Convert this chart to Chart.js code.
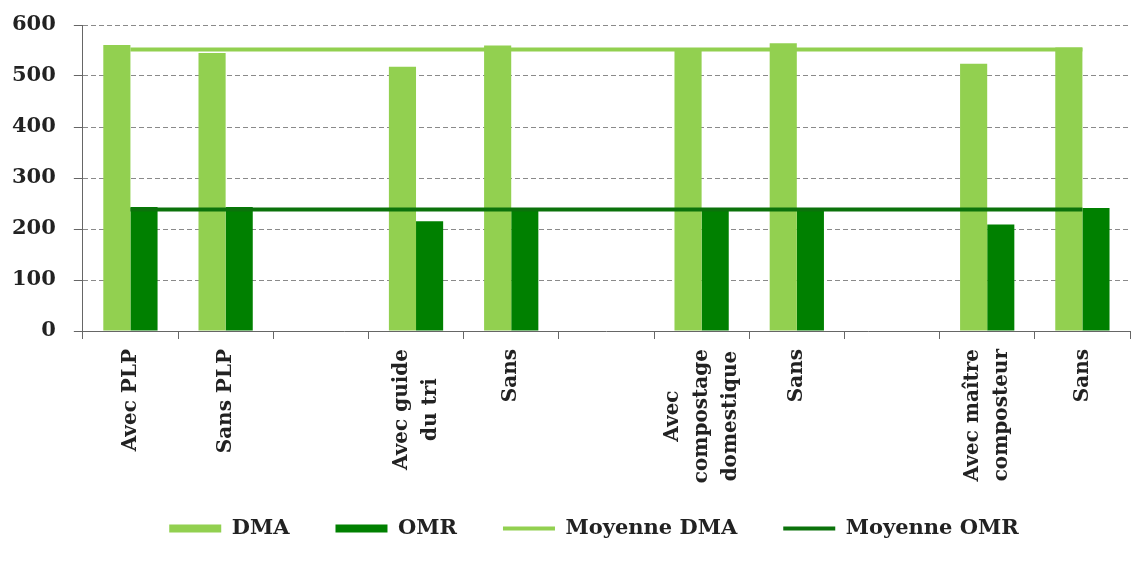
<!DOCTYPE html>
<html>
<head>
<meta charset="utf-8">
<script src="https://cdn.jsdelivr.net/npm/chart.js@4"></script>
<style>
  html, body { margin: 0; padding: 0; background: #fff; }
  #wrap { width: 1135px; height: 564px; }
</style>
</head>
<body>
<div id="wrap"><canvas id="myChart" width="1135" height="564"></canvas></div>
<script>
const labels = [
  ["Avec PLP"], ["Sans PLP"], [""],
  ["Avec guide", "du tri"], ["Sans"], [""],
  ["Avec", "compostage", "domestique"], ["Sans"], [""],
  ["Avec maître", "composteur"], ["Sans"]
]
const dma = [561, 545, null, 518, 560, null, 554, 564, null, 524, 556]
const omr = [243, 243, null, 215, 241, null, 241, 241, null, 209, 241]
const moyenneDma = [552, 552, 552, 552, 552, 552, 552, 552, 552, 552, 552]
const moyenneOmr = [238, 238, 238, 238, 238, 238, 238, 238, 238, 238, 238]

const fontFamily = "'DejaVu Serif', serif"

// draws the x labels rotated, each line centred like in the original
const xLabelsPlugin = {
  id: 'xLabels',
  afterLayout(chart) {
    // legend sits a bit right of centre in the original
    chart.legend.left += 32
    chart.legend.right += 32
  },
  afterDraw(chart) {
    const ctx = chart.ctx
    const scale = chart.scales.x
    const lh = 29
    ctx.save()
    ctx.font = "bold 20px " + fontFamily
    ctx.fillStyle = '#222'
    ctx.textAlign = 'center'
    ctx.textBaseline = 'middle'
    chart.data.labels.forEach((lines, i) => {
      const x = scale.getPixelForValue(i)
      const w = Math.max(...lines.map(l => ctx.measureText(l).width))
      ctx.save()
      ctx.translate(x, scale.top + 18)
      ctx.rotate(-Math.PI / 2)
      lines.forEach((l, j) => {
        ctx.fillText(l, -w / 2, (j - (lines.length - 1) / 2) * lh)
      })
      ctx.restore()
    })
    ctx.restore()
  }
}

const data = {
  labels: labels,
  datasets: [
    {
      type: 'line', label: 'Moyenne DMA', data: moyenneDma, order: 0,
      borderColor: '#92d050', backgroundColor: '#92d050', borderWidth: 4,
      pointRadius: 0, pointStyle: 'line', tension: 0
    },
    {
      type: 'line', label: 'Moyenne OMR', data: moyenneOmr, order: 0,
      borderColor: '#0b720b', backgroundColor: '#0b720b', borderWidth: 4,
      pointRadius: 0, pointStyle: 'line', tension: 0
    },
    {
      type: 'bar', label: 'DMA', data: dma, order: 1,
      backgroundColor: '#92d050', borderWidth: 0, pointStyle: 'rect',
      categoryPercentage: 0.57, barPercentage: 1.0
    },
    {
      type: 'bar', label: 'OMR', data: omr, order: 1,
      backgroundColor: '#008000', borderWidth: 0, pointStyle: 'rect',
      categoryPercentage: 0.57, barPercentage: 1.0
    }
  ]
}

const ctx = document.getElementById("myChart")

const chart = new Chart(ctx, {
  type: 'bar',
  data: data,
  plugins: [xLabelsPlugin],
  options: {
    responsive: false,
    animation: false,
    layout: { padding: { top: 25, left: -6, right: 5, bottom: 15 } },
    plugins: {
      tooltip: { enabled: false },
      legend: {
        position: 'bottom',
        labels: {
          sort: (a, b) => [2, 3, 0, 1].indexOf(a.datasetIndex) - [2, 3, 0, 1].indexOf(b.datasetIndex),
          usePointStyle: true,
          pointStyleWidth: 52,
          boxHeight: 8,
          padding: 46,
          color: '#222',
          font: { family: fontFamily, weight: 'bold', size: 21 }
        }
      }
    },
    scales: {
      x: {
        afterFit: (s) => { s.height = 141 },
        ticks: { display: false },
        grid: { offset: true, drawOnChartArea: false, drawTicks: true, tickLength: 8, tickColor: '#666' },
        border: { display: true, color: '#666', width: 1 }
      },
      y: {
        min: 0,
        max: 600,
        afterFit: (s) => { s.paddingTop = 0; s.paddingBottom = 0 },
        ticks: {
          stepSize: 100, padding: 18, color: '#222',
          font: { family: fontFamily, weight: 'bold', size: 21 }
        },
        grid: {
          color: (c) => c.tick && c.tick.value === 0 ? 'rgba(0,0,0,0)' : '#8a8a8a',
          lineWidth: 1, tickLength: 9, tickColor: '#666'
        },
        border: { display: true, color: '#666', width: 1, dash: [5, 3] }
      }
    }
  }
})
</script>
</body>
</html>
